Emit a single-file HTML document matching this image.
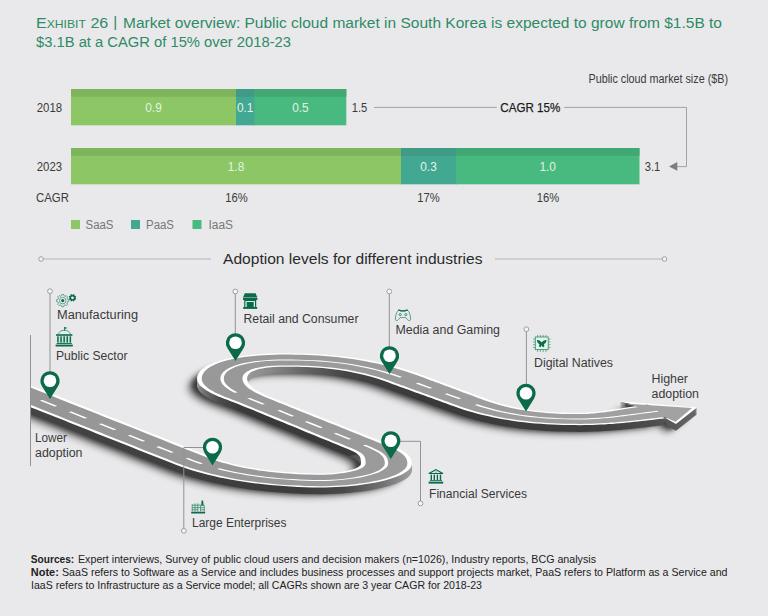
<!DOCTYPE html>
<html lang="en"><head><meta charset="utf-8"><title>Exhibit 26 | Market overview</title>
<style>
html,body{margin:0;padding:0;background:#e9e9eb;}
body{width:768px;height:616px;overflow:hidden;}
svg{display:block;font-family:"Liberation Sans",sans-serif;}
</style></head><body>
<svg width="768" height="616" viewBox="0 0 768 616">
<rect width="768" height="616" fill="#e9e9eb"/>
<text x="36" y="28" font-size="15.3" fill="#2e8b66" textLength="72.3" lengthAdjust="spacingAndGlyphs">E<tspan font-size="11.6">XHIBIT</tspan> 26</text>
<text x="113.2" y="27.2" font-size="15.3" fill="#2e8b66" >|</text>
<text x="123" y="28" font-size="15.3" fill="#2e8b66" textLength="599" lengthAdjust="spacingAndGlyphs" >Market overview: Public cloud market in South Korea is expected to grow from $1.5B to</text>
<text x="36" y="47" font-size="15.3" fill="#2e8b66" textLength="255" lengthAdjust="spacingAndGlyphs" >$3.1B at a CAGR of 15% over 2018-23</text>
<text x="588.5" y="83" font-size="12.3" fill="#3a3a3a" textLength="139.5" lengthAdjust="spacingAndGlyphs" >Public cloud market size ($B)</text>
<rect x="71" y="89" width="165.8" height="36.3" fill="#8cc665"/>
<rect x="71" y="89" width="165.8" height="7.8" fill="#7fb45f"/>
<rect x="236" y="89" width="19.3" height="36.3" fill="#42a891"/>
<rect x="236" y="89" width="19.3" height="7.8" fill="#3f9b86"/>
<rect x="254.5" y="89" width="91.80000000000001" height="36.3" fill="#48b97f"/>
<rect x="254.5" y="89" width="91.80000000000001" height="7.8" fill="#41a874"/>
<rect x="71" y="148" width="330.8" height="36.3" fill="#8cc665"/>
<rect x="71" y="148" width="330.8" height="7.8" fill="#7fb45f"/>
<rect x="401" y="148" width="55.8" height="36.3" fill="#42a891"/>
<rect x="401" y="148" width="55.8" height="7.8" fill="#3f9b86"/>
<rect x="456" y="148" width="183.5" height="36.3" fill="#48b97f"/>
<rect x="456" y="148" width="183.5" height="7.8" fill="#41a874"/>
<text x="153.5" y="111.7" font-size="12.5" fill="#e2f4e4" text-anchor="middle" textLength="16.5" lengthAdjust="spacingAndGlyphs" >0.9</text>
<text x="245.2" y="111.7" font-size="12.5" fill="#e2f4e4" text-anchor="middle" textLength="16.5" lengthAdjust="spacingAndGlyphs" >0.1</text>
<text x="300.4" y="111.7" font-size="12.5" fill="#e2f4e4" text-anchor="middle" textLength="16.5" lengthAdjust="spacingAndGlyphs" >0.5</text>
<text x="236" y="171" font-size="12.5" fill="#e2f4e4" text-anchor="middle" textLength="16.5" lengthAdjust="spacingAndGlyphs" >1.8</text>
<text x="428.5" y="171" font-size="12.5" fill="#e2f4e4" text-anchor="middle" textLength="16.5" lengthAdjust="spacingAndGlyphs" >0.3</text>
<text x="547.7" y="171" font-size="12.5" fill="#e2f4e4" text-anchor="middle" textLength="16.5" lengthAdjust="spacingAndGlyphs" >1.0</text>
<text x="36.7" y="111.7" font-size="12.5" fill="#3a3a3a" textLength="25.4" lengthAdjust="spacingAndGlyphs" >2018</text>
<text x="36.7" y="171" font-size="12.5" fill="#3a3a3a" textLength="25.4" lengthAdjust="spacingAndGlyphs" >2023</text>
<text x="36" y="202.3" font-size="12.5" fill="#3a3a3a" textLength="33" lengthAdjust="spacingAndGlyphs" >CAGR</text>
<text x="236.5" y="202.3" font-size="12.5" fill="#3a3a3a" text-anchor="middle" textLength="22.5" lengthAdjust="spacingAndGlyphs" >16%</text>
<text x="428.5" y="202.3" font-size="12.5" fill="#3a3a3a" text-anchor="middle" textLength="22.5" lengthAdjust="spacingAndGlyphs" >17%</text>
<text x="548" y="202.3" font-size="12.5" fill="#3a3a3a" text-anchor="middle" textLength="22.5" lengthAdjust="spacingAndGlyphs" >16%</text>
<text x="351.8" y="111.7" font-size="12.5" fill="#3a3a3a" textLength="15.5" lengthAdjust="spacingAndGlyphs" >1.5</text>
<text x="644.8" y="170.6" font-size="12.5" fill="#3a3a3a" textLength="15.5" lengthAdjust="spacingAndGlyphs" >3.1</text>
<text x="500.3" y="111.5" font-size="13.3" fill="#1a1a1a" textLength="60" lengthAdjust="spacingAndGlyphs" stroke="#1a1a1a" stroke-width="0.25">CAGR 15%</text>
<path d="M374 107.4H496.7M564 107.4H686.5V166.6H676" fill="none" stroke="#9a9a9a" stroke-width="0.9"/>
<path d="M669 166.4L677.3 162V170.8Z" fill="#7d7d7d"/>
<rect x="71" y="220" width="9" height="9" fill="#8cc665"/>
<text x="85.5" y="228.5" font-size="12.3" fill="#777" textLength="28" lengthAdjust="spacingAndGlyphs" >SaaS</text>
<rect x="131" y="220" width="9" height="9" fill="#42a891"/>
<text x="146" y="228.5" font-size="12.3" fill="#777" textLength="28" lengthAdjust="spacingAndGlyphs" >PaaS</text>
<rect x="192.5" y="220" width="9" height="9" fill="#48b97f"/>
<text x="208.5" y="228.5" font-size="12.3" fill="#777" textLength="24.5" lengthAdjust="spacingAndGlyphs" >IaaS</text>
<text x="223" y="264.2" font-size="15.3" fill="#2b2b2b" textLength="259.5" lengthAdjust="spacingAndGlyphs" >Adoption levels for different industries</text>
<path d="M43 259H211M495 259H662.5" stroke="#b5b5b5" stroke-width="1" fill="none"/>
<circle cx="41" cy="259" r="2.3" fill="#f2f2f2" stroke="#8f8f8f" stroke-width="0.8"/>
<circle cx="664.5" cy="259" r="2.3" fill="#f2f2f2" stroke="#8f8f8f" stroke-width="0.8"/>
<defs><filter id="blur" x="-20%" y="-20%" width="140%" height="140%"><feGaussianBlur stdDeviation="3.6"/></filter><filter id="blur2" x="-20%" y="-20%" width="140%" height="140%"><feGaussianBlur stdDeviation="2.2"/></filter><clipPath id="clipL"><rect x="30.5" y="300" width="740" height="260"/></clipPath><linearGradient id="gLow" gradientUnits="userSpaceOnUse" x1="0" y1="0" x2="768" y2="0"><stop offset="0.0000" stop-color="#444"/><stop offset="0.3906" stop-color="#3c3c3c"/><stop offset="0.4492" stop-color="#4a4a4a"/><stop offset="0.5013" stop-color="#747474"/><stop offset="0.5365" stop-color="#a0a0a0"/></linearGradient><linearGradient id="gMid" gradientUnits="userSpaceOnUse" x1="0" y1="0" x2="768" y2="0"><stop offset="0.2565" stop-color="#8c8c8c"/><stop offset="0.2682" stop-color="#6a6a6a"/><stop offset="0.2865" stop-color="#4a4a4a"/><stop offset="0.3125" stop-color="#3a3a3a"/><stop offset="0.5469" stop-color="#3a3a3a"/></linearGradient><linearGradient id="gUp" gradientUnits="userSpaceOnUse" x1="0" y1="0" x2="768" y2="0"><stop offset="0.3203" stop-color="#9a9a9a"/><stop offset="0.3581" stop-color="#858585"/><stop offset="0.4036" stop-color="#606060"/><stop offset="0.4492" stop-color="#454545"/><stop offset="0.5469" stop-color="#393939"/><stop offset="0.7812" stop-color="#3f3f3f"/><stop offset="0.8529" stop-color="#4e4e4e"/><stop offset="0.9115" stop-color="#6a6a6a"/></linearGradient><linearGradient id="top" gradientUnits="userSpaceOnUse" x1="0" y1="0" x2="768" y2="0"><stop offset="0.0391" stop-color="#969696"/><stop offset="0.5208" stop-color="#9b9b9b"/><stop offset="0.9115" stop-color="#a2a2a2"/></linearGradient><path id="rd" d="M-28.4,383.7L-20.1,387.0L-11.7,390.3L-3.4,393.7L4.9,397.0L13.3,400.3L21.6,403.6L29.9,406.9L38.3,410.2L46.6,413.5L54.9,416.8L63.3,420.1L71.6,423.4L79.9,426.7L88.3,430.0L96.6,433.4L104.9,436.7L113.3,440.0L121.6,443.3L129.9,446.6L138.3,449.9L146.6,453.2L154.9,456.5L163.3,459.8L171.6,463.1L176.5,465.0L181.4,466.8L186.5,468.5L191.7,470.2L197.0,471.8L202.5,473.3L208.0,474.7L213.7,476.1L219.5,477.4L225.5,478.6L231.5,479.7L237.7,480.8L244.0,481.8L250.4,482.7L256.9,483.6L263.5,484.3L270.2,485.0L277.0,485.6L283.9,486.1L290.8,486.6L297.8,486.9L304.9,487.2L312.0,487.4L320.0,487.5L325.4,487.5L330.7,487.3L336.0,487.1L341.2,486.8L346.4,486.4L351.6,485.9L356.6,485.4L361.6,484.7L366.5,484.0L371.3,483.2L376.0,482.4L380.5,481.4L384.8,480.4L388.9,479.3L392.8,478.0L396.5,476.7L399.8,475.4L402.9,473.9L405.5,472.3L407.8,470.7L409.6,469.0L410.9,467.2L411.7,465.4L412.0,463.5L411.9,462.3L411.8,461.2L411.5,460.1L411.1,459.0L410.5,457.9L409.9,456.9L409.1,455.9L408.2,454.9L407.1,454.0L406.0,453.0L404.7,452.1L403.4,451.2L401.9,450.4L400.4,449.5L398.7,448.7L397.1,447.9L395.3,447.1L393.5,446.3L391.7,445.6L389.8,444.8L387.9,444.0L385.9,443.3L384.0,442.5L382.0,441.7L377.4,439.8L372.9,438.0L368.3,436.1L363.7,434.3L359.1,432.5L354.5,430.6L349.9,428.8L345.3,427.0L340.7,425.1L336.1,423.3L331.5,421.4L326.9,419.6L322.3,417.8L317.7,415.9L313.1,414.1L308.5,412.3L303.9,410.4L299.3,408.6L294.7,406.7L290.1,404.9L285.6,403.1L281.0,401.2L276.4,399.4L271.9,397.5L270.0,396.8L268.1,396.0L266.3,395.2L264.6,394.4L262.9,393.6L261.3,392.8L259.8,392.1L258.3,391.3L256.9,390.5L255.7,389.7L254.5,388.9L253.4,388.1L252.3,387.3L251.4,386.6L250.6,385.8L249.8,385.0L249.2,384.2L248.6,383.4L248.2,382.6L247.8,381.8L247.5,381.0L247.3,380.2L247.1,379.4L247.1,378.5L247.2,377.3L247.5,376.3L248.0,375.3L248.6,374.4L249.3,373.6L250.2,372.8L251.2,372.1L252.3,371.5L253.4,370.9L254.7,370.4L256.0,369.9L257.4,369.5L259.0,369.1L260.6,368.7L262.4,368.4L264.3,368.0L266.4,367.8L268.6,367.5L270.9,367.3L273.5,367.1L276.1,366.9L279.0,366.8L281.9,366.7L285.0,366.7L289.4,366.7L293.7,366.8L298.0,366.8L302.1,366.9L306.3,367.1L310.4,367.2L314.5,367.5L318.6,367.7L322.7,368.1L326.8,368.5L331.0,368.9L335.2,369.4L339.5,370.0L343.9,370.7L348.4,371.5L353.0,372.4L357.6,373.4L362.4,374.5L367.2,375.8L372.1,377.1L377.1,378.6L382.2,380.3L387.4,382.1L392.9,384.2L395.4,385.1L397.9,386.0L400.4,386.9L402.9,387.8L405.5,388.7L408.0,389.6L410.5,390.6L413.0,391.5L415.5,392.4L418.1,393.3L420.6,394.2L423.1,395.1L425.6,396.0L428.2,396.9L430.7,397.8L433.2,398.8L435.7,399.7L438.2,400.6L440.8,401.5L443.3,402.4L445.8,403.3L448.3,404.2L450.8,405.2L453.3,406.1L458.1,407.8L462.9,409.4L467.7,410.9L472.6,412.3L477.5,413.7L482.5,415.0L487.5,416.1L492.6,417.3L497.7,418.3L502.9,419.3L508.2,420.1L513.5,420.9L518.9,421.7L524.4,422.3L529.8,422.9L535.3,423.4L540.9,423.8L546.4,424.2L552.0,424.5L557.6,424.8L563.2,424.9L568.8,425.1L574.4,425.1L580.0,425.2L584.2,425.1L588.4,425.1L592.6,424.9L596.6,424.8L600.6,424.6L604.6,424.4L608.5,424.1L612.3,423.9L616.1,423.6L619.9,423.2L623.6,422.9L627.2,422.6L630.9,422.2L634.4,421.8L638.0,421.4L641.5,421.1L645.0,420.7L648.4,420.3L651.8,419.9L655.2,419.5L658.6,419.1L661.9,418.7L665.1,418.3L668.3,417.9L647.7,404.5L643.9,405.0L640.3,405.5L636.7,406.0L633.3,406.5L629.9,406.9L626.6,407.4L623.4,407.9L620.3,408.4L617.2,408.9L614.2,409.3L611.4,409.8L608.5,410.2L605.8,410.6L603.1,411.0L600.5,411.3L597.9,411.6L595.4,411.9L593.0,412.1L590.7,412.3L588.4,412.5L586.2,412.7L584.1,412.8L582.0,412.8L580.0,412.8L575.7,412.8L571.4,412.8L567.3,412.7L563.2,412.6L559.2,412.4L555.3,412.2L551.4,412.0L547.6,411.7L543.9,411.4L540.1,411.0L536.4,410.6L532.7,410.2L529.0,409.6L525.3,409.0L521.5,408.4L517.8,407.7L514.0,406.9L510.2,406.0L506.4,405.1L502.5,404.0L498.6,402.9L494.6,401.7L490.7,400.3L486.7,398.9L484.2,398.0L481.7,397.1L479.2,396.2L476.7,395.3L474.2,394.3L471.8,393.4L469.3,392.5L466.8,391.6L464.3,390.7L461.8,389.7L459.4,388.8L456.9,387.9L454.4,387.0L451.9,386.0L449.5,385.1L447.0,384.2L444.5,383.3L442.0,382.4L439.5,381.4L437.1,380.5L434.6,379.6L432.1,378.7L429.6,377.8L427.1,376.8L421.4,374.7L415.5,372.6L409.6,370.7L403.7,368.8L397.8,367.1L391.9,365.5L385.9,364.0L380.0,362.6L374.0,361.3L368.1,360.1L362.0,359.1L356.0,358.1L350.0,357.2L343.9,356.5L337.8,355.8L331.8,355.2L325.8,354.7L319.8,354.3L313.8,354.0L307.9,353.7L302.1,353.5L296.3,353.4L290.6,353.3L285.0,353.3L279.4,353.3L273.9,353.4L268.4,353.6L262.9,353.9L257.5,354.3L252.2,354.8L247.0,355.3L242.0,356.0L237.1,356.7L232.3,357.6L227.7,358.6L223.4,359.6L219.4,360.8L215.6,362.0L212.1,363.4L209.0,364.8L206.2,366.3L203.8,367.9L201.7,369.5L200.1,371.2L198.8,372.9L197.8,374.7L197.3,376.6L197.1,378.5L197.2,380.0L197.6,381.4L198.3,382.8L199.2,384.2L200.3,385.6L201.6,386.8L203.1,388.1L204.7,389.3L206.5,390.5L208.4,391.6L210.4,392.7L212.5,393.7L214.6,394.7L216.8,395.7L219.0,396.7L221.3,397.6L223.5,398.5L225.7,399.3L227.9,400.1L230.1,401.0L232.2,401.8L234.3,402.5L236.2,403.3L238.1,404.1L242.7,405.9L247.2,407.8L251.8,409.6L256.3,411.5L260.8,413.3L265.3,415.2L269.8,417.0L274.4,418.9L278.9,420.7L283.4,422.6L287.9,424.4L292.4,426.3L296.9,428.1L301.4,430.0L305.9,431.9L310.4,433.7L314.9,435.6L319.4,437.4L323.9,439.3L328.5,441.1L333.0,443.0L337.5,444.8L342.1,446.7L346.6,448.5L348.5,449.3L350.1,450.0L351.6,450.7L353.0,451.3L354.2,452.0L355.3,452.6L356.2,453.1L357.0,453.7L357.7,454.2L358.3,454.7L358.8,455.2L359.2,455.7L359.6,456.2L359.9,456.7L360.1,457.2L360.3,457.8L360.5,458.3L360.6,458.9L360.7,459.6L360.8,460.2L360.9,461.0L361.0,461.8L361.0,462.6L361.0,463.5L360.9,464.2L360.6,464.9L360.2,465.5L359.5,466.1L358.7,466.7L357.8,467.3L356.7,467.9L355.4,468.4L353.9,468.9L352.3,469.5L350.5,470.0L348.5,470.5L346.5,470.9L344.2,471.3L341.9,471.7L339.5,472.1L337.0,472.4L334.5,472.7L332.0,473.0L329.5,473.2L327.0,473.3L324.5,473.4L322.2,473.5L320.0,473.5L315.6,473.4L310.4,473.3L305.2,473.1L300.1,472.9L295.0,472.6L290.0,472.3L285.1,471.9L280.2,471.5L275.3,471.0L270.5,470.5L265.8,469.9L261.0,469.2L256.3,468.5L251.7,467.7L247.1,466.9L242.6,465.9L238.1,464.9L233.6,463.9L229.2,462.7L224.9,461.5L220.7,460.2L216.5,458.9L212.4,457.4L208.4,455.9L200.1,452.6L191.7,449.3L183.4,445.9L175.1,442.6L166.7,439.3L158.4,436.0L150.1,432.7L141.7,429.4L133.4,426.1L125.1,422.8L116.7,419.5L108.4,416.2L100.1,412.9L91.7,409.6L83.4,406.2L75.1,402.9L66.7,399.6L58.4,396.3L50.1,393.0L41.7,389.7L33.4,386.4L25.1,383.1L16.7,379.8L8.4,376.5ZM633.5,404.7L619.5,401.3L697,407.5L676,424L667,419Z"/><path id="rLow" d="M-28.4,383.7L-20.1,387.0L-11.7,390.3L-3.4,393.7L4.9,397.0L13.3,400.3L21.6,403.6L29.9,406.9L38.3,410.2L46.6,413.5L54.9,416.8L63.3,420.1L71.6,423.4L79.9,426.7L88.3,430.0L96.6,433.4L104.9,436.7L113.3,440.0L121.6,443.3L129.9,446.6L138.3,449.9L146.6,453.2L154.9,456.5L163.3,459.8L171.6,463.1L176.5,465.0L181.4,466.8L186.5,468.5L191.7,470.2L197.0,471.8L202.5,473.3L208.0,474.7L213.7,476.1L219.5,477.4L225.5,478.6L231.5,479.7L237.7,480.8L244.0,481.8L250.4,482.7L256.9,483.6L263.5,484.3L270.2,485.0L277.0,485.6L283.9,486.1L290.8,486.6L297.8,486.9L304.9,487.2L312.0,487.4L320.0,487.5L325.4,487.5L330.7,487.3L336.0,487.1L341.2,486.8L346.4,486.4L351.6,485.9L356.6,485.4L361.6,484.7L366.5,484.0L371.3,483.2L376.0,482.4L380.5,481.4L384.8,480.4L388.9,479.3L392.8,478.0L396.5,476.7L399.8,475.4L402.9,473.9L405.5,472.3L407.8,470.7L409.6,469.0L410.9,467.2L411.7,465.4L412.0,463.5L411.9,462.3L411.8,461.2L411.5,460.1L411.1,459.0L410.5,457.9L409.9,456.9L409.1,455.9L408.2,454.9L407.1,454.0L406.0,453.0L404.7,452.1L403.4,451.2L401.9,450.4L400.4,449.5L398.7,448.7L397.1,447.9L395.3,447.1L393.5,446.3L391.7,445.6L389.8,444.8L387.9,444.0L385.9,443.3L384.0,442.5L382.0,441.7L377.4,439.8L342.1,446.7L346.6,448.5L348.5,449.3L350.1,450.0L351.6,450.7L353.0,451.3L354.2,452.0L355.3,452.6L356.2,453.1L357.0,453.7L357.7,454.2L358.3,454.7L358.8,455.2L359.2,455.7L359.6,456.2L359.9,456.7L360.1,457.2L360.3,457.8L360.5,458.3L360.6,458.9L360.7,459.6L360.8,460.2L360.9,461.0L361.0,461.8L361.0,462.6L361.0,463.5L360.9,464.2L360.6,464.9L360.2,465.5L359.5,466.1L358.7,466.7L357.8,467.3L356.7,467.9L355.4,468.4L353.9,468.9L352.3,469.5L350.5,470.0L348.5,470.5L346.5,470.9L344.2,471.3L341.9,471.7L339.5,472.1L337.0,472.4L334.5,472.7L332.0,473.0L329.5,473.2L327.0,473.3L324.5,473.4L322.2,473.5L320.0,473.5L315.6,473.4L310.4,473.3L305.2,473.1L300.1,472.9L295.0,472.6L290.0,472.3L285.1,471.9L280.2,471.5L275.3,471.0L270.5,470.5L265.8,469.9L261.0,469.2L256.3,468.5L251.7,467.7L247.1,466.9L242.6,465.9L238.1,464.9L233.6,463.9L229.2,462.7L224.9,461.5L220.7,460.2L216.5,458.9L212.4,457.4L208.4,455.9L200.1,452.6L191.7,449.3L183.4,445.9L175.1,442.6L166.7,439.3L158.4,436.0L150.1,432.7L141.7,429.4L133.4,426.1L125.1,422.8L116.7,419.5L108.4,416.2L100.1,412.9L91.7,409.6L83.4,406.2L75.1,402.9L66.7,399.6L58.4,396.3L50.1,393.0L41.7,389.7L33.4,386.4L25.1,383.1L16.7,379.8L8.4,376.5Z"/><path id="rMid" d="M384.0,442.5L382.0,441.7L377.4,439.8L372.9,438.0L368.3,436.1L363.7,434.3L359.1,432.5L354.5,430.6L349.9,428.8L345.3,427.0L340.7,425.1L336.1,423.3L331.5,421.4L326.9,419.6L322.3,417.8L317.7,415.9L313.1,414.1L308.5,412.3L303.9,410.4L299.3,408.6L294.7,406.7L290.1,404.9L285.6,403.1L281.0,401.2L276.4,399.4L271.9,397.5L270.0,396.8L268.1,396.0L266.3,395.2L264.6,394.4L262.9,393.6L261.3,392.8L259.8,392.1L258.3,391.3L256.9,390.5L255.7,389.7L254.5,388.9L253.4,388.1L252.3,387.3L251.4,386.6L250.6,385.8L249.8,385.0L249.2,384.2L248.6,383.4L248.2,382.6L247.8,381.8L247.5,381.0L247.3,380.2L247.1,379.4L247.1,378.5L247.2,377.3L197.3,376.6L197.1,378.5L197.2,380.0L197.6,381.4L198.3,382.8L199.2,384.2L200.3,385.6L201.6,386.8L203.1,388.1L204.7,389.3L206.5,390.5L208.4,391.6L210.4,392.7L212.5,393.7L214.6,394.7L216.8,395.7L219.0,396.7L221.3,397.6L223.5,398.5L225.7,399.3L227.9,400.1L230.1,401.0L232.2,401.8L234.3,402.5L236.2,403.3L238.1,404.1L242.7,405.9L247.2,407.8L251.8,409.6L256.3,411.5L260.8,413.3L265.3,415.2L269.8,417.0L274.4,418.9L278.9,420.7L283.4,422.6L287.9,424.4L292.4,426.3L296.9,428.1L301.4,430.0L305.9,431.9L310.4,433.7L314.9,435.6L319.4,437.4L323.9,439.3L328.5,441.1L333.0,443.0L337.5,444.8L342.1,446.7L346.6,448.5L348.5,449.3Z"/><path id="rUp" d="M247.1,379.4L247.1,378.5L247.2,377.3L247.5,376.3L248.0,375.3L248.6,374.4L249.3,373.6L250.2,372.8L251.2,372.1L252.3,371.5L253.4,370.9L254.7,370.4L256.0,369.9L257.4,369.5L259.0,369.1L260.6,368.7L262.4,368.4L264.3,368.0L266.4,367.8L268.6,367.5L270.9,367.3L273.5,367.1L276.1,366.9L279.0,366.8L281.9,366.7L285.0,366.7L289.4,366.7L293.7,366.8L298.0,366.8L302.1,366.9L306.3,367.1L310.4,367.2L314.5,367.5L318.6,367.7L322.7,368.1L326.8,368.5L331.0,368.9L335.2,369.4L339.5,370.0L343.9,370.7L348.4,371.5L353.0,372.4L357.6,373.4L362.4,374.5L367.2,375.8L372.1,377.1L377.1,378.6L382.2,380.3L387.4,382.1L392.9,384.2L395.4,385.1L397.9,386.0L400.4,386.9L402.9,387.8L405.5,388.7L408.0,389.6L410.5,390.6L413.0,391.5L415.5,392.4L418.1,393.3L420.6,394.2L423.1,395.1L425.6,396.0L428.2,396.9L430.7,397.8L433.2,398.8L435.7,399.7L438.2,400.6L440.8,401.5L443.3,402.4L445.8,403.3L448.3,404.2L450.8,405.2L453.3,406.1L458.1,407.8L462.9,409.4L467.7,410.9L472.6,412.3L477.5,413.7L482.5,415.0L487.5,416.1L492.6,417.3L497.7,418.3L502.9,419.3L508.2,420.1L513.5,420.9L518.9,421.7L524.4,422.3L529.8,422.9L535.3,423.4L540.9,423.8L546.4,424.2L552.0,424.5L557.6,424.8L563.2,424.9L568.8,425.1L574.4,425.1L580.0,425.2L584.2,425.1L588.4,425.1L592.6,424.9L596.6,424.8L600.6,424.6L604.6,424.4L608.5,424.1L612.3,423.9L616.1,423.6L619.9,423.2L623.6,422.9L627.2,422.6L630.9,422.2L634.4,421.8L638.0,421.4L641.5,421.1L645.0,420.7L648.4,420.3L651.8,419.9L655.2,419.5L658.6,419.1L661.9,418.7L665.1,418.3L668.3,417.9L647.7,404.5L643.9,405.0L640.3,405.5L636.7,406.0L633.3,406.5L629.9,406.9L626.6,407.4L623.4,407.9L620.3,408.4L617.2,408.9L614.2,409.3L611.4,409.8L608.5,410.2L605.8,410.6L603.1,411.0L600.5,411.3L597.9,411.6L595.4,411.9L593.0,412.1L590.7,412.3L588.4,412.5L586.2,412.7L584.1,412.8L582.0,412.8L580.0,412.8L575.7,412.8L571.4,412.8L567.3,412.7L563.2,412.6L559.2,412.4L555.3,412.2L551.4,412.0L547.6,411.7L543.9,411.4L540.1,411.0L536.4,410.6L532.7,410.2L529.0,409.6L525.3,409.0L521.5,408.4L517.8,407.7L514.0,406.9L510.2,406.0L506.4,405.1L502.5,404.0L498.6,402.9L494.6,401.7L490.7,400.3L486.7,398.9L484.2,398.0L481.7,397.1L479.2,396.2L476.7,395.3L474.2,394.3L471.8,393.4L469.3,392.5L466.8,391.6L464.3,390.7L461.8,389.7L459.4,388.8L456.9,387.9L454.4,387.0L451.9,386.0L449.5,385.1L447.0,384.2L444.5,383.3L442.0,382.4L439.5,381.4L437.1,380.5L434.6,379.6L432.1,378.7L429.6,377.8L427.1,376.8L421.4,374.7L415.5,372.6L409.6,370.7L403.7,368.8L397.8,367.1L391.9,365.5L385.9,364.0L380.0,362.6L374.0,361.3L368.1,360.1L362.0,359.1L356.0,358.1L350.0,357.2L343.9,356.5L337.8,355.8L331.8,355.2L325.8,354.7L319.8,354.3L313.8,354.0L307.9,353.7L302.1,353.5L296.3,353.4L290.6,353.3L285.0,353.3L279.4,353.3L273.9,353.4L268.4,353.6L262.9,353.9L257.5,354.3L252.2,354.8L247.0,355.3L242.0,356.0L237.1,356.7L232.3,357.6L227.7,358.6L223.4,359.6L219.4,360.8L215.6,362.0L212.1,363.4L209.0,364.8L206.2,366.3L203.8,367.9L201.7,369.5L200.1,371.2L198.8,372.9L197.8,374.7L197.3,376.6L197.1,378.5L197.2,380.0ZM633.5,404.7L619.5,401.3L697,407.5L676,424L667,419Z"/></defs>
<g clip-path="url(#clipL)">
<g filter="url(#blur)" opacity="0.5"><use href="#rd" x="-9" y="9" fill="#000"/></g>
<g filter="url(#blur2)" opacity="0.5"><use href="#rd" x="-5" y="6.5" fill="#000"/></g>
<use href="#rLow" y="6.7" fill="url(#gLow)"/>
<use href="#rLow" y="6" fill="url(#gLow)"/>
<use href="#rLow" y="5" fill="url(#gLow)"/>
<use href="#rLow" y="4" fill="url(#gLow)"/>
<use href="#rLow" y="3" fill="url(#gLow)"/>
<use href="#rLow" y="2" fill="url(#gLow)"/>
<use href="#rLow" y="1" fill="url(#gLow)"/>
<use href="#rMid" y="6.7" fill="url(#gMid)"/>
<use href="#rMid" y="6" fill="url(#gMid)"/>
<use href="#rMid" y="5" fill="url(#gMid)"/>
<use href="#rMid" y="4" fill="url(#gMid)"/>
<use href="#rMid" y="3" fill="url(#gMid)"/>
<use href="#rMid" y="2" fill="url(#gMid)"/>
<use href="#rMid" y="1" fill="url(#gMid)"/>
<use href="#rUp" y="6.7" fill="url(#gUp)"/>
<use href="#rUp" y="6" fill="url(#gUp)"/>
<use href="#rUp" y="5" fill="url(#gUp)"/>
<use href="#rUp" y="4" fill="url(#gUp)"/>
<use href="#rUp" y="3" fill="url(#gUp)"/>
<use href="#rUp" y="2" fill="url(#gUp)"/>
<use href="#rUp" y="1" fill="url(#gUp)"/>
<use href="#rd" fill="#fff"/>
<path d="M-24.6,383.0L-16.3,386.3L-8.0,389.6L0.4,392.9L8.7,396.2L17.0,399.5L25.4,402.8L33.7,406.1L42.0,409.5L50.4,412.8L58.7,416.1L67.0,419.4L75.4,422.7L83.7,426.0L92.0,429.3L100.4,432.6L108.7,435.9L117.0,439.2L125.4,442.5L133.7,445.8L142.0,449.2L150.4,452.5L158.7,455.8L167.0,459.1L175.4,462.4L180.1,464.2L185.0,466.0L190.0,467.7L195.1,469.3L200.3,470.8L205.6,472.3L211.0,473.7L216.6,475.1L222.3,476.3L228.1,477.5L234.0,478.7L240.0,479.7L246.1,480.7L252.3,481.6L258.7,482.4L265.1,483.1L271.6,483.8L278.2,484.4L284.9,484.9L291.7,485.3L298.5,485.6L305.4,485.9L312.3,486.1L320.0,486.2L325.1,486.2L330.1,486.0L335.1,485.8L340.1,485.5L345.1,485.2L350.0,484.7L354.8,484.2L359.6,483.6L364.3,482.9L368.8,482.2L373.3,481.3L377.5,480.4L381.7,479.4L385.6,478.4L389.3,477.2L392.7,476.0L395.9,474.7L398.8,473.3L401.3,471.8L403.4,470.3L405.1,468.7L406.4,467.0L407.1,465.3L407.4,463.5L407.3,462.4L407.2,461.2L406.9,460.2L406.5,459.1L405.9,458.1L405.3,457.1L404.5,456.1L403.7,455.2L402.7,454.3L401.6,453.4L400.4,452.5L399.0,451.7L397.6,450.8L396.2,450.0L394.6,449.2L393.0,448.5L391.3,447.7L389.5,447.0L387.8,446.2L385.9,445.5L384.0,444.7L382.1,444.0L380.2,443.2L378.2,442.4L373.6,440.6L369.1,438.7L364.5,436.9L359.9,435.0L355.3,433.2L350.8,431.4L346.2,429.5L341.6,427.7L337.0,425.8L332.4,424.0L327.7,422.2L323.1,420.3L318.5,418.5L313.9,416.7L309.3,414.8L304.7,413.0L300.1,411.2L295.5,409.3L290.9,407.5L286.4,405.6L281.8,403.8L277.2,402.0L272.6,400.1L268.1,398.3L266.2,397.5L264.4,396.7L262.5,395.9L260.8,395.1L259.1,394.3L257.5,393.5L255.9,392.7L254.4,391.9L253.0,391.1L251.6,390.3L250.4,389.5L249.2,388.7L248.1,387.9L247.2,387.1L246.3,386.2L245.5,385.4L244.8,384.6L244.2,383.7L243.7,382.9L243.3,382.1L242.9,381.2L242.7,380.3L242.5,379.4L242.5,378.5L242.6,377.3L242.9,376.1L243.4,375.1L244.1,374.1L244.9,373.2L245.9,372.4L247.0,371.6L248.2,370.9L249.6,370.2L251.0,369.6L252.6,369.1L254.2,368.6L256.0,368.1L257.9,367.7L260.0,367.3L262.2,366.9L264.5,366.6L267.0,366.3L269.7,366.0L272.5,365.8L275.4,365.7L278.5,365.5L281.7,365.5L285.0,365.4L289.5,365.4L294.0,365.5L298.3,365.6L302.7,365.7L307.0,365.8L311.3,366.0L315.6,366.2L319.9,366.5L324.2,366.9L328.5,367.3L332.9,367.7L337.3,368.3L341.8,368.9L346.4,369.6L351.0,370.5L355.8,371.4L360.6,372.4L365.5,373.6L370.4,374.9L375.5,376.3L380.6,377.8L385.8,379.5L391.0,381.3L396.6,383.4L399.1,384.3L401.6,385.2L404.1,386.1L406.6,387.0L409.1,387.9L411.6,388.9L414.2,389.8L416.7,390.7L419.2,391.6L421.7,392.5L424.2,393.4L426.8,394.3L429.3,395.2L431.8,396.2L434.3,397.1L436.9,398.0L439.4,398.9L441.9,399.8L444.4,400.7L446.9,401.6L449.4,402.5L452.0,403.5L454.5,404.4L457.0,405.3L461.6,407.0L466.3,408.5L471.1,410.0L475.8,411.4L480.6,412.7L485.5,414.0L490.4,415.1L495.3,416.2L500.3,417.2L505.3,418.2L510.4,419.0L515.6,419.8L520.8,420.5L526.0,421.1L531.3,421.7L536.6,422.2L542.0,422.6L547.4,423.0L552.8,423.2L558.2,423.5L563.6,423.7L569.1,423.8L574.5,423.8L580.0,423.9L584.0,423.8L588.0,423.8L591.9,423.7L595.8,423.5L599.6,423.3L603.4,423.1L607.2,422.9L610.9,422.6L614.6,422.4L618.2,422.0L621.8,421.7L625.4,421.4L629.0,421.0L632.5,420.7L636.1,420.3L639.6,419.9L643.0,419.5L646.5,419.1L649.9,418.7L653.3,418.3L656.6,417.9L659.9,417.5L663.2,417.1L666.5,416.7L649.5,405.7L645.8,406.2L642.2,406.6L638.7,407.1L635.2,407.6L631.9,408.1L628.6,408.6L625.4,409.1L622.2,409.6L619.2,410.0L616.1,410.5L613.2,410.9L610.3,411.4L607.5,411.8L604.7,412.2L602.0,412.5L599.3,412.8L596.7,413.1L594.2,413.4L591.7,413.6L589.3,413.8L586.9,413.9L584.5,414.0L582.2,414.1L580.0,414.1L575.5,414.1L571.1,414.1L566.8,414.0L562.6,413.9L558.4,413.7L554.3,413.5L550.3,413.3L546.3,413.0L542.4,412.6L538.4,412.2L534.5,411.8L530.7,411.3L526.8,410.8L522.9,410.1L519.0,409.5L515.1,408.7L511.1,407.9L507.2,407.0L503.2,406.0L499.2,404.9L495.2,403.8L491.2,402.5L487.1,401.2L483.0,399.7L480.5,398.8L478.0,397.9L475.6,397.0L473.1,396.0L470.6,395.1L468.1,394.2L465.6,393.3L463.1,392.4L460.7,391.4L458.2,390.5L455.7,389.6L453.2,388.7L450.8,387.7L448.3,386.8L445.8,385.9L443.3,385.0L440.8,384.1L438.4,383.1L435.9,382.2L433.4,381.3L430.9,380.4L428.4,379.5L425.9,378.5L423.4,377.6L417.8,375.5L411.9,373.4L406.1,371.5L400.3,369.7L394.5,368.0L388.8,366.4L383.0,365.0L377.2,363.6L371.4,362.4L365.6,361.2L359.8,360.2L353.9,359.2L348.1,358.4L342.2,357.7L336.3,357.0L330.5,356.4L324.6,356.0L318.8,355.6L313.1,355.2L307.3,355.0L301.7,354.8L296.1,354.7L290.5,354.6L285.0,354.6L279.7,354.6L274.4,354.7L269.1,354.9L263.9,355.2L258.8,355.5L253.8,356.0L248.9,356.5L244.1,357.1L239.4,357.8L235.0,358.7L230.7,359.6L226.6,360.6L222.8,361.6L219.2,362.8L216.0,364.1L213.0,365.4L210.4,366.8L208.1,368.3L206.1,369.9L204.5,371.5L203.3,373.2L202.4,374.9L201.9,376.7L201.7,378.5L201.8,379.9L202.2,381.3L202.9,382.7L203.7,384.0L204.8,385.3L206.1,386.5L207.5,387.7L209.1,388.9L210.8,390.0L212.7,391.1L214.6,392.2L216.6,393.2L218.7,394.1L220.9,395.1L223.0,396.0L225.2,396.9L227.4,397.8L229.6,398.6L231.8,399.4L233.9,400.2L236.0,401.0L238.0,401.8L240.0,402.6L241.9,403.3L246.5,405.2L251.0,407.0L255.5,408.9L260.1,410.7L264.6,412.6L269.1,414.4L273.6,416.3L278.1,418.1L282.6,420.0L287.2,421.8L291.7,423.7L296.2,425.6L300.7,427.4L305.2,429.3L309.7,431.1L314.2,433.0L318.7,434.8L323.2,436.7L327.7,438.5L332.2,440.4L336.8,442.2L341.3,444.1L345.8,445.9L350.4,447.8L352.3,448.6L353.9,449.3L355.5,450.0L356.9,450.6L358.1,451.3L359.2,451.9L360.2,452.5L361.1,453.1L361.9,453.7L362.5,454.2L363.1,454.8L363.5,455.3L363.9,455.8L364.3,456.4L364.6,456.9L364.8,457.5L365.0,458.1L365.2,458.7L365.3,459.4L365.4,460.1L365.5,460.9L365.6,461.7L365.6,462.6L365.6,463.5L365.5,464.3L365.2,465.1L364.6,465.8L363.9,466.5L363.0,467.2L361.9,467.9L360.6,468.5L359.1,469.2L357.5,469.8L355.6,470.4L353.6,470.9L351.5,471.5L349.2,472.0L346.7,472.4L344.2,472.9L341.5,473.3L338.8,473.6L336.1,473.9L333.3,474.2L330.5,474.4L327.8,474.6L325.1,474.7L322.5,474.8L320.0,474.8L315.3,474.7L309.8,474.6L304.5,474.4L299.2,474.2L294.0,473.9L288.8,473.6L283.7,473.2L278.6,472.7L273.6,472.2L268.6,471.7L263.7,471.0L258.8,470.4L253.9,469.6L249.1,468.8L244.4,467.9L239.7,466.9L235.1,465.9L230.5,464.8L226.0,463.6L221.6,462.4L217.2,461.1L212.9,459.7L208.7,458.2L204.6,456.6L196.3,453.3L188.0,450.0L179.6,446.7L171.3,443.4L163.0,440.1L154.6,436.8L146.3,433.5L138.0,430.1L129.6,426.8L121.3,423.5L113.0,420.2L104.6,416.9L96.3,413.6L88.0,410.3L79.6,407.0L71.3,403.7L63.0,400.4L54.6,397.1L46.3,393.8L38.0,390.4L29.6,387.1L21.3,383.8L13.0,380.5L4.6,377.2Z" fill="url(#top)"/>
<path d="M635,406L624.5,403.6L692,407.9L675.6,421.8L665.5,417.6Z" fill="#a2a2a2"/>
<path d="M39.6,400.6L47.1,403.6L54.6,406.6L57.4,406.0L49.9,403.1L42.4,400.1ZM68.6,412.1L76.6,415.3L84.6,418.5L87.4,417.9L79.4,414.8L71.4,411.6ZM98.6,424.0L106.1,427.0L113.6,430.0L116.4,429.5L108.9,426.5L101.4,423.5ZM127.6,435.6L135.1,438.5L142.6,441.5L145.4,441.0L137.9,438.0L130.4,435.0ZM156.1,446.9L163.6,449.8L171.1,452.8L173.9,452.3L166.4,449.3L158.9,446.3ZM185.3,458.5L187.0,459.1L188.6,459.8L192.5,461.3L196.4,462.7L200.4,464.1L203.0,463.4L199.1,462.1L195.2,460.7L191.4,459.2L189.7,458.6L188.1,457.9ZM217.2,469.0L222.9,470.4L228.7,471.7L234.6,473.0L240.6,474.1L246.7,475.2L253.0,476.1L259.3,477.0L265.7,477.8L272.2,478.5L278.8,479.1L285.4,479.6L292.2,480.0L299.0,480.4L305.9,480.7L312.9,480.9L319.9,481.0L325.8,480.9L331.8,480.7L337.7,480.3L343.6,479.8L349.4,479.1L355.1,478.3L360.5,477.4L365.6,476.3L370.3,475.1L374.7,473.8L378.5,472.4L381.8,470.8L384.5,469.1L386.5,467.4L387.8,465.5L388.2,463.5L388.1,461.9L387.9,460.5L387.5,459.1L386.9,457.9L386.2,456.6L385.3,455.5L384.2,454.4L382.9,453.3L381.4,452.3L379.8,451.2L377.9,450.2L375.9,449.2L373.6,448.2L371.2,447.1L368.5,446.0L365.7,444.8L362.9,445.4L365.7,446.5L368.3,447.6L370.7,448.7L372.9,449.7L374.9,450.7L376.7,451.7L378.3,452.6L379.7,453.6L380.9,454.7L382.0,455.7L382.8,456.8L383.6,458.0L384.1,459.2L384.5,460.6L384.7,462.0L384.8,463.5L384.4,465.4L383.2,467.1L381.3,468.8L378.8,470.4L375.7,471.8L372.1,473.2L368.0,474.4L363.4,475.6L358.6,476.6L353.4,477.5L348.0,478.2L342.5,478.9L336.8,479.4L331.2,479.7L325.5,480.0L320.1,480.0L313.2,479.9L306.3,479.7L299.6,479.5L292.9,479.1L286.3,478.7L279.8,478.2L273.3,477.6L267.0,476.9L260.7,476.1L254.5,475.3L248.4,474.3L242.5,473.3L236.6,472.2L230.8,471.0L225.1,469.7L219.6,468.3ZM336.4,433.0L343.9,436.0L351.4,439.0L348.6,439.6L341.1,436.5L333.6,433.5ZM307.4,421.2L315.1,424.3L322.9,427.5L320.1,428.0L312.4,424.9L304.6,421.7ZM280.0,410.1L287.2,413.0L294.4,415.9L291.6,416.5L284.4,413.6L277.2,410.6ZM265.0,404.0L260.7,402.3L256.4,400.5L254.3,399.7L252.1,398.8L249.9,397.9L247.1,398.4L249.3,399.3L251.5,400.2L253.6,401.1L257.9,402.8L262.2,404.6ZM237.5,392.4L236.0,391.6L234.6,390.8L233.3,390.0L232.0,389.3L230.8,388.5L229.7,387.6L228.7,386.8L227.7,385.9L226.8,385.1L226.1,384.2L225.4,383.3L224.8,382.4L224.4,381.4L224.1,380.5L223.9,379.5L223.8,378.5L224.1,376.3L225.0,374.2L226.5,372.3L228.6,370.5L231.2,368.9L234.2,367.4L237.7,366.1L241.6,364.9L245.9,363.9L250.6,363.0L255.6,362.2L261.0,361.6L266.6,361.1L272.5,360.8L278.7,360.5L285.0,360.5L291.9,360.5L298.9,360.6L305.8,360.8L312.7,361.1L319.7,361.5L326.7,362.1L333.7,362.8L340.8,363.6L347.9,364.6L355.0,365.8L362.3,367.2L369.6,368.8L377.0,370.6L384.4,372.7L392.0,374.9L399.7,377.5L402.3,376.9L394.6,374.3L386.9,372.0L379.3,369.9L371.8,368.1L364.3,366.4L356.9,365.0L349.5,363.8L342.2,362.8L334.9,361.9L327.7,361.2L320.5,360.6L313.4,360.2L306.2,359.9L299.1,359.7L292.1,359.6L285.0,359.5L278.4,359.6L272.0,359.8L265.8,360.2L259.8,360.7L254.2,361.3L248.8,362.2L243.8,363.1L239.2,364.2L235.1,365.5L231.4,366.9L228.1,368.5L225.4,370.2L223.3,372.0L221.7,374.0L220.7,376.2L220.4,378.5L220.5,379.5L220.7,380.6L221.0,381.5L221.5,382.5L222.1,383.5L222.7,384.4L223.5,385.3L224.4,386.2L225.4,387.1L226.5,388.0L227.7,388.8L228.9,389.6L230.2,390.4L231.6,391.2L233.0,392.0L234.5,392.8ZM415.6,383.4L422.7,386.0L429.8,388.6L432.6,388.0L425.5,385.4L418.4,382.8ZM444.5,394.0L451.6,396.5L458.6,399.1L461.4,398.5L454.3,396.0L447.3,393.4ZM474.7,404.9L480.9,406.9L487.2,408.8L493.5,410.4L499.8,411.9L506.2,413.3L512.6,414.4L519.0,415.5L525.5,416.4L532.1,417.2L538.7,417.8L545.4,418.4L552.2,418.8L559.0,419.1L565.9,419.3L572.9,419.4L580.0,419.5L584.8,419.4L589.6,419.3L594.4,419.0L599.2,418.7L604.0,418.3L608.9,417.9L613.7,417.4L618.5,416.8L623.4,416.2L628.3,415.6L633.3,414.9L638.2,414.3L643.3,413.6L648.4,412.9L653.5,412.3L658.7,411.6L657.3,410.8L652.1,411.4L646.9,412.1L641.8,412.8L636.8,413.4L631.8,414.1L626.9,414.7L622.0,415.3L617.2,415.9L612.4,416.5L607.7,417.0L603.0,417.4L598.4,417.8L593.7,418.1L589.1,418.3L584.6,418.5L580.0,418.5L573.0,418.5L566.2,418.4L559.5,418.2L552.8,417.8L546.2,417.4L539.7,416.9L533.3,416.3L526.9,415.5L520.6,414.7L514.4,413.6L508.1,412.5L501.9,411.2L495.8,409.7L489.6,408.1L483.5,406.3L477.3,404.3Z" fill="#fff"/>
</g>
<path d="M30.5 335V466" stroke="#939393" stroke-width="1" fill="none"/>
<path d="M50 293.5V372M235.3 294V335M389.3 294V348M526.4 331.5V385M204 447.5H183.8V528.5M400 441.3H420.5V501" stroke="#939393" stroke-width="1" fill="none"/>
<circle cx="50" cy="291.2" r="2.4" fill="#f6f6f6" stroke="#8a8a8a" stroke-width="0.8"/>
<circle cx="235.3" cy="291.5" r="2.4" fill="#f6f6f6" stroke="#8a8a8a" stroke-width="0.8"/>
<circle cx="389.3" cy="291.5" r="2.4" fill="#f6f6f6" stroke="#8a8a8a" stroke-width="0.8"/>
<circle cx="526.4" cy="329.2" r="2.4" fill="#f6f6f6" stroke="#8a8a8a" stroke-width="0.8"/>
<circle cx="183.8" cy="530.8" r="2.4" fill="#f6f6f6" stroke="#8a8a8a" stroke-width="0.8"/>
<circle cx="420.5" cy="503.4" r="2.4" fill="#f6f6f6" stroke="#8a8a8a" stroke-width="0.8"/>
<path d="M50.00,399.00L41.84,386.04A9.65,9.65 0 1 1 58.16,386.04Z" fill="#0b6a4a"/><circle cx="50" cy="380.70" r="6.3" fill="#fff"/>
<path d="M212.50,465.50L204.34,452.54A9.65,9.65 0 1 1 220.66,452.54Z" fill="#0b6a4a"/><circle cx="212.5" cy="447.20" r="6.3" fill="#fff"/>
<path d="M235.50,361.00L227.34,348.04A9.65,9.65 0 1 1 243.66,348.04Z" fill="#0b6a4a"/><circle cx="235.5" cy="342.70" r="6.3" fill="#fff"/>
<path d="M390.80,459.00L382.64,446.04A9.65,9.65 0 1 1 398.96,446.04Z" fill="#0b6a4a"/><circle cx="390.8" cy="440.70" r="6.3" fill="#fff"/>
<path d="M389.50,374.00L381.34,361.04A9.65,9.65 0 1 1 397.66,361.04Z" fill="#0b6a4a"/><circle cx="389.5" cy="355.70" r="6.3" fill="#fff"/>
<path d="M526.00,411.50L517.84,398.54A9.65,9.65 0 1 1 534.16,398.54Z" fill="#0b6a4a"/><circle cx="526" cy="393.20" r="6.3" fill="#fff"/>
<text x="57" y="319" font-size="12.3" fill="#3a3a3a" textLength="81" lengthAdjust="spacingAndGlyphs">Manufacturing</text>
<text x="56" y="360" font-size="12.3" fill="#3a3a3a" textLength="71.5" lengthAdjust="spacingAndGlyphs">Public Sector</text>
<text x="243.5" y="323" font-size="12.3" fill="#3a3a3a" textLength="115" lengthAdjust="spacingAndGlyphs">Retail and Consumer</text>
<text x="395.5" y="333.5" font-size="12.3" fill="#3a3a3a" textLength="104.5" lengthAdjust="spacingAndGlyphs">Media and Gaming</text>
<text x="534" y="366.5" font-size="12.3" fill="#3a3a3a" textLength="79" lengthAdjust="spacingAndGlyphs">Digital Natives</text>
<text x="651.5" y="382.5" font-size="12.3" fill="#3a3a3a" textLength="36.5" lengthAdjust="spacingAndGlyphs">Higher</text>
<text x="651.5" y="397.5" font-size="12.3" fill="#3a3a3a" textLength="47.5" lengthAdjust="spacingAndGlyphs">adoption</text>
<text x="35" y="441.5" font-size="12.3" fill="#3a3a3a" textLength="32" lengthAdjust="spacingAndGlyphs">Lower</text>
<text x="35" y="456.5" font-size="12.3" fill="#3a3a3a" textLength="47.5" lengthAdjust="spacingAndGlyphs">adoption</text>
<text x="192" y="526.5" font-size="12.3" fill="#3a3a3a" textLength="94.5" lengthAdjust="spacingAndGlyphs">Large Enterprises</text>
<text x="429" y="497.5" font-size="12.3" fill="#3a3a3a" textLength="98" lengthAdjust="spacingAndGlyphs">Financial Services</text>
<g fill="none" stroke="#2f8a68" stroke-width="0.7"><path d="M68.84,299.73L68.84,301.47L67.54,301.84L67.00,303.15L67.66,304.32L66.42,305.56L65.25,304.90L63.94,305.44L63.57,306.74L61.83,306.74L61.46,305.44L60.15,304.90L58.98,305.56L57.74,304.32L58.40,303.15L57.86,301.84L56.56,301.47L56.56,299.73L57.86,299.36L58.40,298.05L57.74,296.88L58.98,295.64L60.15,296.30L61.46,295.76L61.83,294.46L63.57,294.46L63.94,295.76L65.25,296.30L66.42,295.64L67.66,296.88L67.00,298.05L67.54,299.36Z"/><circle cx="62.7" cy="300.6" r="3.3"/></g>
<circle cx="62.7" cy="300.6" r="1.6" fill="#0b6a4a"/>
<path d="M76.18,298.74L75.78,299.73L74.98,299.65L74.37,300.27L74.44,301.07L73.45,301.48L72.95,300.87L72.07,300.87L71.56,301.48L70.57,301.08L70.65,300.28L70.03,299.67L69.23,299.74L68.82,298.75L69.43,298.25L69.43,297.37L68.82,296.86L69.22,295.87L70.02,295.95L70.63,295.33L70.56,294.53L71.55,294.12L72.05,294.73L72.93,294.73L73.44,294.12L74.43,294.52L74.35,295.32L74.97,295.93L75.77,295.86L76.18,296.85L75.57,297.35L75.57,298.23ZM73.9,297.8A1.4,1.4 0 1 0 71.1,297.8A1.4,1.4 0 1 0 73.9,297.8Z" fill="#0b6a4a" fill-rule="evenodd"/>
<rect x="57.2" y="336" width="13.9" height="7" fill="#cfe8dc"/>
<g fill="#0b6a4a"><rect x="55.6" y="344.6" width="17.2" height="1.9"/><rect x="56.6" y="342.9" width="15.2" height="1"/><rect x="56" y="334.2" width="16.4" height="1.6"/><rect x="57.2" y="336.3" width="1.5" height="6.2"/><rect x="60.3" y="336.3" width="1.5" height="6.2"/><rect x="63.4" y="336.3" width="1.5" height="6.2"/><rect x="66.5" y="336.3" width="1.5" height="6.2"/><rect x="69.6" y="336.3" width="1.5" height="6.2"/><rect x="64" y="327" width="0.8" height="4"/><path d="M64.8,327.1L67.4,327.9L64.8,329Z"/></g>
<path d="M58.6,334.2A5.8,4 0 0 1 70.2,334.2" fill="none" stroke="#2f8a68" stroke-width="0.8"/>
<g fill="#0b6a4a"><path d="M244.8,293.2H255.6L257.4,297.6H243Z"/><rect x="243" y="297.9" width="14.4" height="2.1"/><rect x="244.2" y="300" width="12" height="7"/><rect x="243.2" y="307" width="14" height="1.9"/></g>
<g fill="#d9f2e6"><rect x="245.4" y="301" width="1.3" height="6"/><rect x="253.7" y="301" width="1.3" height="6"/><rect x="246.7" y="301" width="7" height="1"/></g>
<path d="M398.3,310.4C396.6,311.6 395.2,316.5 395.4,319.2C395.6,321.2 397.6,320.9 398.6,319.5L400.2,317.6H405.8L407.4,319.5C408.4,320.9 410.4,321.2 410.6,319.2C410.8,316.5 409.4,311.6 407.7,310.4C406.6,309.7 405.6,310.6 404.8,310.9H401.2C400.4,310.6 399.4,309.7 398.3,310.4Z" fill="none" stroke="#2f8a68" stroke-width="0.75"/>
<path d="M398.3,310.4C399.4,309.7 400.4,310.6 401.2,310.9H404.8C405.6,310.6 406.6,309.7 407.7,310.4" fill="none" stroke="#0b6a4a" stroke-width="1.3"/>
<g fill="none" stroke="#0b6a4a" stroke-width="0.7"><circle cx="400.2" cy="314.6" r="1.1"/><circle cx="405.8" cy="314.6" r="1.1"/></g>
<path d="M537.6,334.9V337M537.6,349.7V351.9M533.1,339.1H535.2M548.2,339.1H550.4M540.4,334.9V337M540.4,349.7V351.9M533.1,341.9H535.2M548.2,341.9H550.4M543.2,334.9V337M543.2,349.7V351.9M533.1,344.7H535.2M548.2,344.7H550.4M546.0,334.9V337M546.0,349.7V351.9M533.1,347.5H535.2M548.2,347.5H550.4" stroke="#2f8a68" stroke-width="0.7" fill="none"/>
<rect x="535.3" y="337" width="12.9" height="12.6" fill="#e2f3ea" stroke="#2f8a68" stroke-width="0.8"/>
<path d="M541.7,342.6C540.6,340.6 538.4,339.8 536.9,340.1C537,342.2 538,343.8 539.6,344.2C538.7,345 538.9,346.7 540.2,347.3C541.1,346.9 541.6,345.9 541.7,344.8C541.8,345.9 542.3,346.9 543.2,347.3C544.5,346.7 544.7,345 543.8,344.2C545.4,343.8 546.4,342.2 546.5,340.1C545,339.8 542.8,340.6 541.7,342.6Z" fill="#0b6a4a"/>
<g fill="#0b6a4a"><rect x="191.2" y="511.7" width="13.9" height="1.8"/><path d="M201.2,505.4L201.6,500.4H203.1L203.6,505.4Z"/></g>
<path d="M192.2,511.3V504.2M192.2,505.2H200.6M195,503.4V511.3M197.8,503.4V511.3M200.6,505.2V511.3M204.3,505.4V511.3M200.6,505.4H204.3M192.2,507.7H204.3M192.2,509.8H197.8M200.6,509.8H204.3" fill="none" stroke="#2f8a68" stroke-width="0.8"/>
<g fill="#0b6a4a"><rect x="428.6" y="481.7" width="14.6" height="1.9"/><rect x="429.8" y="480.2" width="12.2" height="0.9"/><rect x="430.6" y="474.6" width="1.4" height="5.4"/><rect x="433.6" y="474.6" width="1.4" height="5.4"/><rect x="436.7" y="474.6" width="1.4" height="5.4"/><rect x="439.8" y="474.6" width="1.4" height="5.4"/><path d="M435.9,469L443.2,473V474H428.6V473Z M435.9,470.3L431.2,473H440.6Z" fill-rule="evenodd"/><circle cx="435.9" cy="472" r="0.6"/></g>
<text x="30.8" y="562.7" font-size="11" fill="#222" textLength="43.4" lengthAdjust="spacingAndGlyphs" font-weight="bold" >Sources:</text>
<text x="78" y="562.7" font-size="11" fill="#222" textLength="518" lengthAdjust="spacingAndGlyphs" >Expert interviews, Survey of public cloud users and decision makers (n=1026), Industry reports, BCG analysis</text>
<text x="30.8" y="576" font-size="11" fill="#222" textLength="28" lengthAdjust="spacingAndGlyphs" font-weight="bold" >Note:</text>
<text x="62" y="576" font-size="11" fill="#222" textLength="665.5" lengthAdjust="spacingAndGlyphs" >SaaS refers to Software as a Service and includes business processes and support projects market, PaaS refers to Platform as a Service and</text>
<text x="31" y="589.3" font-size="11" fill="#222" textLength="451" lengthAdjust="spacingAndGlyphs" >IaaS refers to Infrastructure as a Service model; all CAGRs shown are 3 year CAGR for 2018-23</text>
</svg>
</body></html>
